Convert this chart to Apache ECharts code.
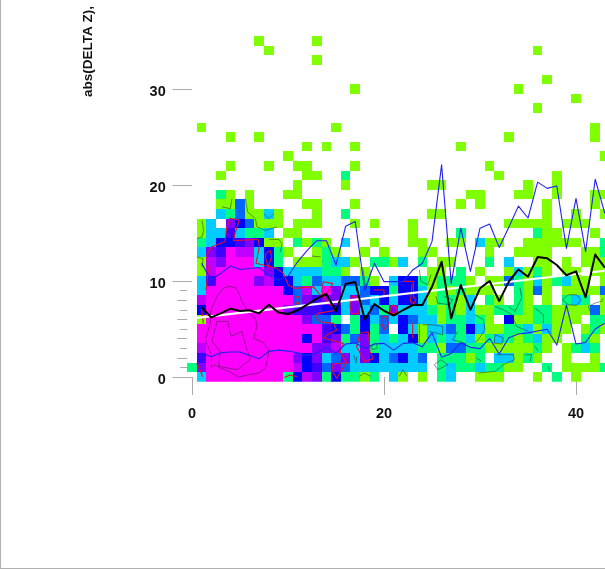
<!DOCTYPE html>
<html>
<head>
<meta charset="utf-8">
<style>
html,body{margin:0;padding:0;background:#fff;width:605px;height:569px;overflow:hidden}
#frame{position:absolute;left:0;top:0;width:605px;height:569px;box-sizing:border-box;border-left:1px solid #b0b0b0;border-bottom:1px solid #b0b0b0}
#chart{position:absolute;left:0;top:0;width:605px;height:569px}
</style>
<script src="https://cdn.jsdelivr.net/npm/echarts@6/dist/echarts.min.js"></script>
</head>
<body>
<div id="frame"></div>
<div id="chart"></div>
<script>
// Count level per cell; rows go from y=0 upward, 4 groups of 11 columns (x=0..43).
const cellRows = [
"03999999992 58725221203 10102300111 00010201000",
"27999999999 85647433333 33302322322 11002011112",
"06999999999 75734737534 53402221203 31210010010",
"08999999999 99778337233 33221442211 11121012320",
"09999999999 95967247232 35132323123 21231100210",
"09999999999 99965425240 53133425311 22313110121",
"01999999999 97442025343 54331223210 51122111022",
"05999999997 66655373427 33321213112 22122111141",
"08999999999 47677374353 55312213021 02101023201",
"03999999995 48397334552 55312121110 02141011114",
"03699997855 32433442103 55212221011 42131231101",
"01899999753 33322101000 00011020100 13121011011",
"01879993520 11123310221 30201100020 30011010111",
"03769883521 00121001010 00110000010 01111000112",
"02355675110 21210300100 01100110311 00111111002",
"01336322301 10000000000 01000020000 00021100010",
"01307541110 11100010100 01000000000 11111011100",
"00032411310 00100200000 00011000000 00001001001",
"00011410000 01100010000 00000010100 00001000010",
"00021010001 10000000000 00000001100 01100100011",
"00000000000 10000100000 00011000000 00100100000",
"00010000000 01100200000 00000000001 00000100000",
"00001000100 11000010000 00000000010 00000000000",
"00000000001 00000000000 00000000000 00000000001",
"00000000000 01010010000 00000010000 00000000000",
"00001001000 00000000000 00000000000 10000000010",
"01000000000 00001000000 00000000000 00000000010",
"00000000000 00000000000 00000000000 00000000000",
"00000000000 00000000000 00000000000 00010000000",
"00000000000 00000000000 00000000000 00000001000",
"00000000000 00000010000 00000000000 01000000000",
"00000000000 00000000000 00000000000 00001000000",
"00000000000 00000000000 00000000000 00000000000",
"00000000000 00100000000 00000000000 00000000000",
"00000000100 00000000000 00000000000 00010000000",
"00000001000 00100000000 00000000000 00000000000"
];
const levelColors = ["#ffffff","#7fff00","#00ff7f","#00ccff","#0066ff","#0000ff","#4000ff","#8000ff","#bf00ff","#ff00ff"];

const medianY = [7.26,6.21,6.63,7.12,6.88,6.95,6.63,7.53,6.73,6.56,6.95,7.53,8.16,8.65,6.84,9.69,9.9,5.97,7.6,6.9,6.39,6.98,7.5,7.5,9.4,12.0,6.1,9.58,7.0,9.24,10.0,7.9,9.93,11.2,10.45,12.5,12.36,11.67,10.6,11.0,8.3,12.75,11.4];
const upperY = [11.84,10.1,10.8,11.56,11.2,11.3,11.4,10.6,10.1,10.5,12.0,13.2,14.2,14.2,11.66,15.7,16.2,9.06,11.84,9.93,9.93,9.93,11.15,11.85,14.1,22.1,9.75,15.5,11.0,15.5,15.94,13.5,15.6,17.8,16.56,20.3,19.65,19.9,13.4,18.6,13.05,20.6,17.05];
const lowerY = [2.53,2.1,2.53,2.6,2.6,2.25,1.9,2.67,2.8,2.7,2.53,2.25,2.47,3.1,2.47,3.44,3.55,3.0,3.44,3.5,2.8,3.5,3.57,3.16,4.6,2.05,2.46,3.57,3.09,2.96,4.03,2.4,4.1,4.48,4.6,4.8,4.98,3.33,7.5,3.43,3.6,5.0,5.6];
const fitLine = [[0.5,6.15],[43,11.07]];

const redContours = [
 [[1.46,9.06],[1.7,11.14],[1.53,12.71],[2.05,13.57],[3.44,14.1],[3.61,14.27],[3.61,15.48],[3.96,16.53],[4.93,16.35],[4.48,14.96],[4.31,14.2],[5.69,14.27],[6.91,14.34],[7.01,13.57],[6.67,11.84],[8.82,11.32],[9.51,10.8],[10.03,9.58],[10.73,9.23],[12.64,9.41],[13.33,8.54],[14.03,8.64],[14.65,9.75],[13.68,9.93],[13.51,8.9],[14.03,7.84],[15.07,6.98],[13.16,6.63],[12.81,6.28],[13.33,5.76],[14.72,5.59],[15.07,4.89],[14.03,4.37],[13.68,4.03],[14.72,3.78],[15.76,3.5],[15.42,2.64],[16.11,1.49],[14.72,1.35],[14.55,0.73],[15.07,-0.14],[15.59,0.73],[16.11,1.49]],
 [[16.53,8.19],[16.8,8.44],[17.33,8.19],[17.5,7.32],[17.33,6.63],[16.63,6.56],[16.46,7.32],[16.53,8.19]],
 [[17.5,4.55],[18.37,4.72],[18.54,2.64],[18.89,1.94],[18.02,1.6],[17.15,3.16],[17.5,4.55]],
 [[19.76,6.28],[20.28,6.28],[20.45,5.41],[20,4.96],[19.76,5.59],[19.76,6.28]],
 [[18.96,9.06],[20,9.06],[20,8.44]],
 [[10.8,8.37],[11.15,8.37],[11.25,7.85],[10.97,7.5],[10.8,7.85],[10.8,8.37]],
 [[7.71,12.88],[8.13,13.16],[8.3,12.53],[7.95,11.49],[7.6,12.53],[7.71,12.88]],
 [[20.63,7.15],[20.97,7.5],[21.39,7.15],[21.32,6.63],[20.69,6.63],[20.63,7.15]],
 [[1,7.15],[1.18,5.59]],
 [[9.62,-0.04],[10.21,0.21],[10.97,0.03]],
 [[0.49,1.42],[0.83,0.73],[1.11,0.03]],
 [[22,9.96],[23.06,9.96],[23.06,8.4],[23.33,8.05],[23.09,7.63],[22.74,7.88],[22.81,8.4],[22.92,9.72]],
 [[22.99,5.62],[22.99,4.06]]
];
const darkContours = [
 [[3.82,9.44],[4.51,9.34],[4.86,8.75],[5.21,7.88],[5.9,6.66],[6.6,6.14],[6.77,5.27],[6.42,4.06],[7.47,3.54],[8,2.84],[7.92,2.04],[7.64,0.93],[6.95,0.41],[5.9,0.24],[4.86,0],[3.82,0.59],[2.95,0.93],[2.43,1.28],[1.98,1],[2.08,2.15],[1.74,3.02],[1.39,3.88],[1.91,5.62],[1.98,7.01],[2.61,8.4],[3.3,9.27],[3.82,9.44]],
 [[2.61,5.79],[3.72,5.79],[4.06,4.23],[5.21,4.75],[5.56,3.36],[6.08,1.8],[4.69,0.76],[2.78,1.11],[2.95,2.67],[2.08,3.71],[2.61,5.79]],
 [[1.04,16.32],[1.22,15.28],[1.04,14.59],[0.52,14.41]],
 [[4.17,18.58],[3.99,17.54],[3.13,17.71]],
 [[5.56,18.58],[5.8,17.19],[6.6,16.49],[6.77,15.63],[7.64,15.28],[8.86,15.63]],
 [[7.47,17.02],[7.99,16.5],[8.51,17.02]],
 [[7.99,14.34],[9.03,14.34],[9.38,13.89],[9.2,13.02]],
 [[0.52,12.5],[1.15,12.33],[1.04,11.46]],
 [[12.5,12.6],[13.4,12.5]],
 [[17.78,11.35],[17.95,10.31],[18.13,9.27],[18.47,10.31],[18.65,11.18]],
 [[23.68,11.18],[23.85,9.96],[24.55,9.61],[24.9,10.66]],
 [[25.42,8.4],[25.59,7.7],[26.81,7.53],[27.15,8.05],[26.28,8.4]],
 [[23.68,5.62],[23.68,3.54]],
 [[24.03,5.45],[24.9,5.45],[26.11,5.27],[26.11,4.4],[24.72,4.75]],
 [[27.67,4.75],[27.15,3.88],[28.37,3.54]],
 [[18.65,3.19],[19.17,3.54],[19.34,3.02],[18.82,2.84],[18.65,3.19]],
 [[16.84,2.32],[17.08,1.45],[17.19,2.15]],
 [[25.24,1.28],[25.59,0.76],[26.63,1.28],[25.94,1.8],[25.24,1.28]],
 [[17.43,0.07],[17.95,0.41],[18.65,0.07]],
 [[21.6,0.07],[21.95,0.76],[22.4,0.07]],
 [[34.17,9.27],[34.34,8.23],[33.65,6.84],[32.95,7.36]],
 [[31.56,7.36],[32.43,7.01],[33.3,6.49],[33.82,5.27],[35.04,4.75]],
 [[35.73,7.18],[36.6,6.49],[36.6,5.62]],
 [[29.48,6.49],[30.35,5.97],[30.52,4.93],[29.83,3.88],[29.48,3.64]],
 [[39.2,8.57],[40.07,8.57],[40.52,8.05],[40.07,7.46],[39.2,7.53],[38.58,8.05],[39.2,8.57]],
 [[41.46,6.84],[41.29,7.36],[41.98,7.7],[42.67,7.88],[42.85,8.22]],
 [[31.74,2.32],[33.47,2.32],[33.58,1.8],[32.43,1.28],[31.56,0.59],[29.83,0.41]],
 [[31.56,4.41],[32.43,4.06],[32.26,3.43],[31.49,3.54],[31.56,4.41]],
 [[35.73,3.19],[36.08,2.67]],
 [[34.69,2.32],[35.38,2.32],[35.21,1.63]],
 [[37.12,1.1],[37.29,0.59]],
 [[29.65,1.97],[30.17,1.63]]
];

const xTickValues = [0,20,40];
const yMajorTicks = [0,10,20,30];
const yMediumTicks = [2,4,6,8];
const yShortTicks = [1,3,5,7,9];
const axisTitle = "abs(DELTA Z),";

const cells = [];
cellRows.forEach((row, y) => {
  row.replace(/ /g, "").split("").forEach((ch, x) => {
    if (ch !== "0") cells.push([x, y, +ch]);
  });
});
const byColumn = ys => ys.map((v, i) => [i + 1, v]);

const lineSeries = (data, color, width, z, opacity) => ({
  type: "line", data, showSymbol: false, silent: true, animation: false,
  lineStyle: { color, width, opacity: opacity == null ? 1 : opacity, join: "round" }, z
});

const tickAxis = (values, length, extra) => Object.assign({
  type: "value", min: -0.5, max: 36, position: "left", scale: false,
  axisLine: { show: false }, splitLine: { show: false },
  axisLabel: { show: false },
  axisTick: { show: true, length, customValues: values, lineStyle: { color: "#aaaaaa", width: 1 } }
}, extra || {});

const chart = echarts.init(document.getElementById("chart"), null, { renderer: "canvas" });
chart.setOption({
  animation: false,
  backgroundColor: "transparent",
  grid: { left: 187.2, top: 31.4, width: 417.8, height: 350.4, containLabel: false },
  xAxis: {
    type: "value", min: -0.5, max: 43.02,
    axisLine: { show: false }, splitLine: { show: false },
    axisTick: { show: true, length: 18, customValues: xTickValues, lineStyle: { color: "#aaaaaa", width: 1 } },
    axisLabel: { show: true, customValues: xTickValues, margin: 25, color: "#111", fontFamily: "Liberation Sans", fontWeight: "bold", fontSize: 14.5 }
  },
  yAxis: [
    tickAxis(yMajorTicks, 19.5, {
      axisLabel: { show: true, customValues: yMajorTicks, margin: 21.5, verticalAlign: "top", lineHeight: 5, color: "#111", fontFamily: "Liberation Sans", fontWeight: "bold", fontSize: 14.5 }
    }),
    tickAxis(yMediumTicks, 10),
    tickAxis(yShortTicks, 7)
  ],
  graphic: [{
    type: "text", x: 88, y: 97, rotation: Math.PI / 2, silent: true,
    style: { text: axisTitle, fill: "#111", font: "bold 13.5px 'Liberation Sans'", align: "left", verticalAlign: "middle" }
  }],
  series: [
    {
      type: "custom", clip: true, silent: true, animation: false, z: 1,
      data: cells, encode: { x: 0, y: 1 },
      renderItem(params, api) {
        const tl = api.coord([api.value(0) - 0.5, api.value(1) + 0.5]);
        const s = api.size([1, 1]);
        const x0 = Math.round(tl[0]), y0 = Math.round(tl[1]);
        const x1 = Math.round(tl[0] + s[0]), y1 = Math.round(tl[1] + s[1]);
        return { type: "rect", shape: { x: x0, y: y0, width: x1 - x0, height: y1 - y0 },
                 style: { fill: levelColors[api.value(2)], stroke: null } };
      }
    },
    ...darkContours.map(c => lineSeries(c, "#2a2a2a", 0.7, 2, 0.75)),
    ...redContours.map(c => lineSeries(c, "#e8102a", 1.1, 3)),
    lineSeries(fitLine, "#ffffff", 2.2, 4),
    lineSeries(byColumn(upperY), "#2222ee", 1.1, 5),
    lineSeries(byColumn(lowerY), "#2222ee", 1.1, 5),
    lineSeries(byColumn(medianY), "#000000", 2, 6)
  ]
});
</script>
</body>
</html>
